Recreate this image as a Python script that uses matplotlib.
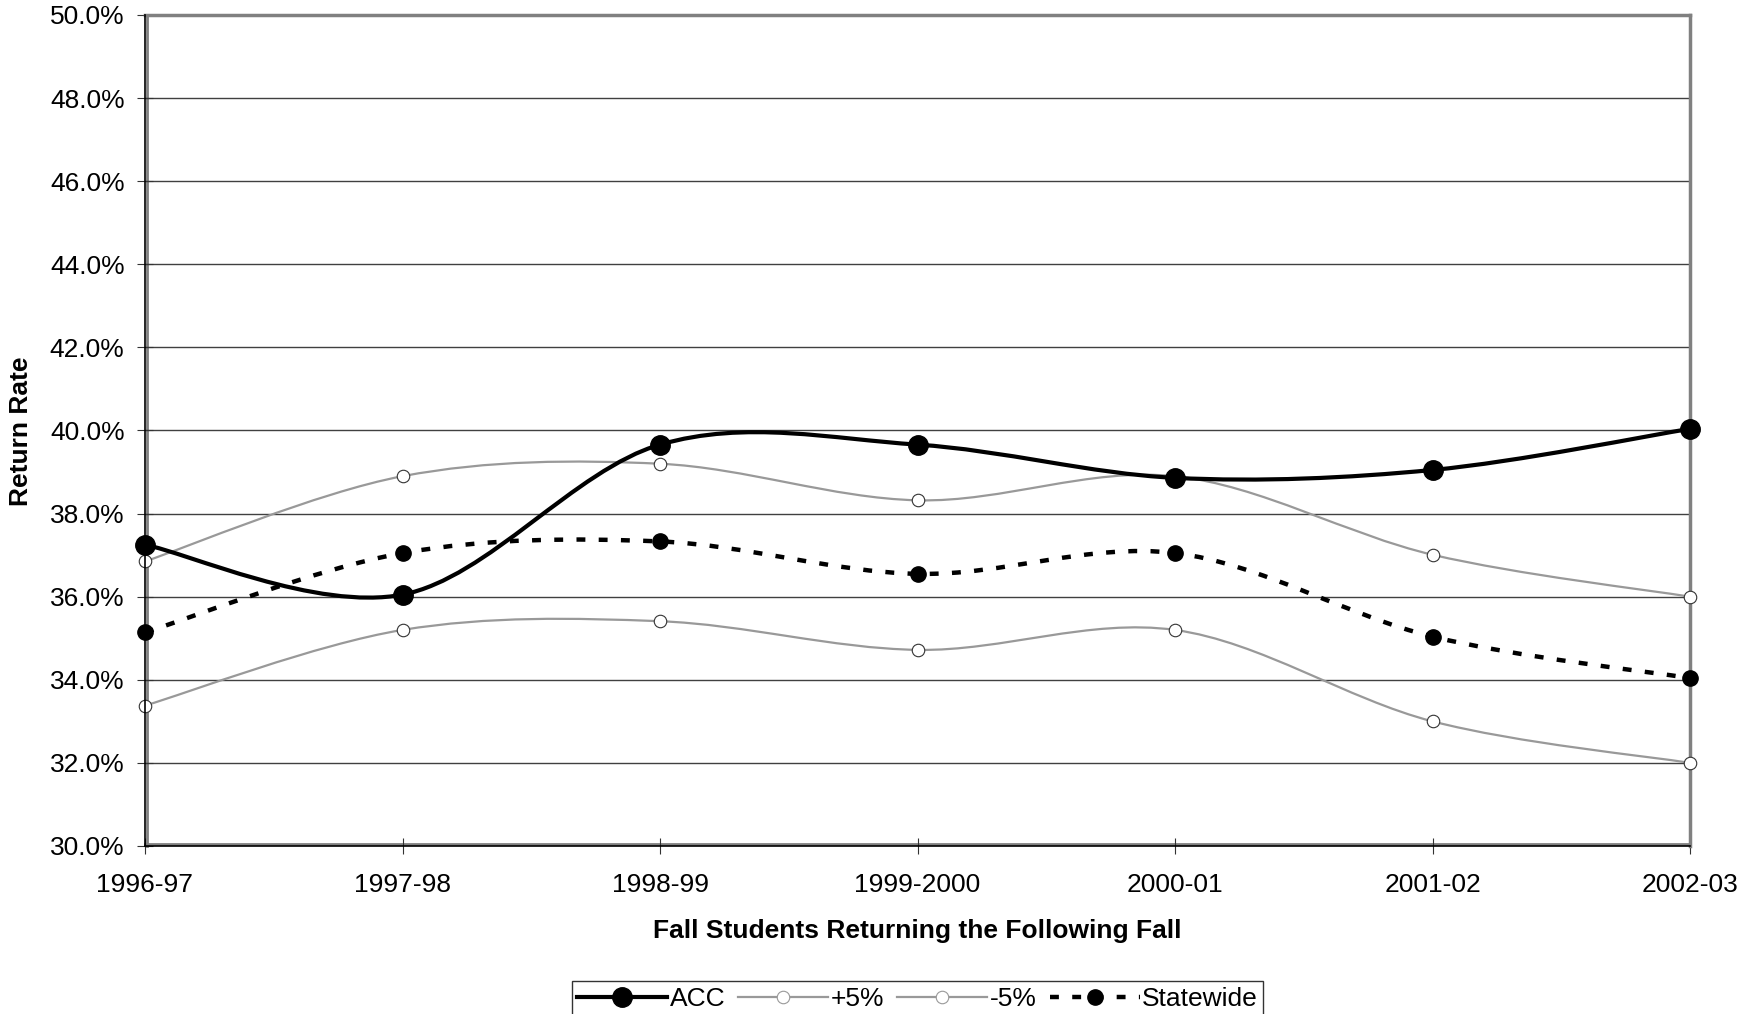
import matplotlib
matplotlib.use("Agg")
import matplotlib.pyplot as plt
from matplotlib.path import Path
from matplotlib.patches import PathPatch
from matplotlib.lines import Line2D
import matplotlib.transforms as mtransforms

plt.rcParams['font.family'] = ['Liberation Sans', 'DejaVu Sans']

categories = ['1996-97', '1997-98', '1998-99', '1999-2000', '2000-01', '2001-02', '2002-03']
acc = [37.25, 36.05, 39.66, 39.66, 38.86, 39.05, 40.04]
plus5 = [36.85, 38.90, 39.20, 38.32, 38.90, 37.01, 36.00]
minus5 = [33.38, 35.20, 35.41, 34.72, 35.20, 33.00, 32.00]
statewide = [35.14, 37.05, 37.33, 36.55, 37.05, 35.04, 34.04]
yticks = [30, 32, 34, 36, 38, 40, 42, 44, 46, 48, 50]

FS = 19


def smooth_path(xs, ys):
    """Excel-like smoothed line as cubic Bezier path (control points from neighbours)."""
    n = len(xs)
    verts = [(xs[0], ys[0])]
    codes = [Path.MOVETO]
    for i in range(n - 1):
        x0, y0 = xs[i], ys[i]
        x1, y1 = xs[i + 1], ys[i + 1]
        xp, yp = (xs[i - 1], ys[i - 1]) if i > 0 else (x0, y0)
        xn, yn = (xs[i + 2], ys[i + 2]) if i + 2 < n else (x1, y1)
        c1 = (x0 + (x1 - xp) / 6.0, y0 + (y1 - yp) / 6.0)
        c2 = (x1 - (xn - x0) / 6.0, y1 - (yn - y0) / 6.0)
        verts += [c1, c2, (x1, y1)]
        codes += [Path.CURVE4] * 3
    return Path(verts, codes)


fig = plt.figure(figsize=(17.6, 10.14), dpi=100)
ax = fig.add_axes([145 / 1760, 1 - 846 / 1014, (1690 - 145) / 1760, (846 - 15) / 1014])

xs = list(range(len(categories)))

# gridlines
for yv in yticks[1:-1]:
    ax.axhline(yv, color='#404040', lw=1.0, zorder=1)

gray = '#999999'
# +5% and -5%
for series in (plus5, minus5):
    ax.add_patch(PathPatch(smooth_path(xs, series), fill=False, edgecolor=gray, lw=1.6, zorder=2))
    ax.plot(xs, series, linestyle='none', marker='o', ms=9, mfc='white', mec='#333333', mew=0.8,
            zorder=3, clip_on=False)

# Statewide
ax.add_patch(PathPatch(smooth_path(xs, statewide), fill=False, edgecolor='black', lw=3.2,
                       linestyle=(0, (2.0, 3.0)), capstyle='butt', zorder=4))
ax.plot(xs, statewide, linestyle='none', marker='o', ms=11, color='black', zorder=5, clip_on=False)

# ACC
ax.add_patch(PathPatch(smooth_path(xs, acc), fill=False, edgecolor='black', lw=3.0, zorder=6))
ax.plot(xs, acc, linestyle='none', marker='o', ms=14, color='black', zorder=7, clip_on=False)

ax.set_xlim(0, len(categories) - 1)
ax.set_ylim(30, 50)
ax.set_xticks(xs)
ax.set_xticklabels(categories, fontsize=FS)
ax.set_yticks(yticks)
ax.set_yticklabels([f'{v:.1f}%' for v in yticks], fontsize=FS)
ax.tick_params(axis='both', direction='inout', length=11.5, width=0.8, color='#333333')
ax.tick_params(axis='y', pad=9)
ax.tick_params(axis='x', pad=14)

for side in ('top', 'right'):
    ax.spines[side].set_color('#808080')
    ax.spines[side].set_linewidth(2.5)
for side in ('left', 'bottom'):
    ax.spines[side].set_color('black')
    ax.spines[side].set_linewidth(1.2)
    ax.spines[side].set_zorder(8)

# gray inner border along left and bottom (plot-area frame)
off_r = mtransforms.ScaledTranslation(2.2 / 100, 0, fig.dpi_scale_trans)
off_u = mtransforms.ScaledTranslation(0, 2.2 / 100, fig.dpi_scale_trans)
ax.plot([0, 0], [0, 1], transform=ax.transAxes + off_r, color='#808080', lw=2.0, zorder=0.5, clip_on=False)
ax.plot([0, 1], [0, 0], transform=ax.transAxes + off_u, color='#808080', lw=2.0, zorder=0.5, clip_on=False)

fig.text(21 / 1760, 1 - 431 / 1014, 'Return Rate', rotation=90, ha='center', va='center',
         fontsize=FS, fontweight='bold')
fig.text(917.5 / 1760, 1 - 931 / 1014, 'Fall Students Returning the Following Fall',
         ha='center', va='center', fontsize=FS, fontweight='bold')

handles = [
    Line2D([], [], color='black', lw=3.0, marker='o', ms=14),
    Line2D([], [], color=gray, lw=1.6, marker='o', ms=9, mfc='white', mec=gray, mew=0.8),
    Line2D([], [], color=gray, lw=1.6, marker='o', ms=9, mfc='white', mec=gray, mew=0.8),
    Line2D([], [], color='black', lw=3.2, linestyle=(0, (2.0, 3.0)), marker='o', ms=11,
           dash_capstyle='butt'),
]
labels = ['ACC', '+5%', '-5%', 'Statewide']
leg = fig.legend(handles, labels, loc='lower center', bbox_to_anchor=(917.5 / 1760, -0.002),
                 ncol=4, fontsize=FS, frameon=True, fancybox=False, shadow=False,
                 handlelength=3.4, handletextpad=0.1, columnspacing=0.5, borderpad=0.2,
                 borderaxespad=0.0)
leg.get_frame().set_edgecolor('black')
leg.get_frame().set_linewidth(1.0)

fig.savefig('out.png', dpi=100, facecolor='white')
